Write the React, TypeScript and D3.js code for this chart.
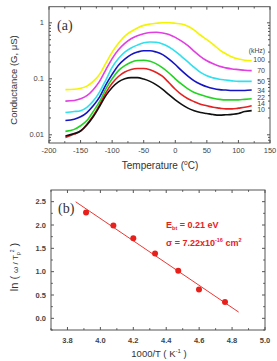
import React from 'react';
import * as d3 from 'd3';

// temperature grid (°C) shared by all conductance traces
const temps = [-174, -160, -150, -140, -130, -120, -110, -100, -90, -80, -70, -60, -50, -40, -30, -20, -10, 0, 10, 20, 30, 40, 50, 60, 70, 80, 90, 100, 110, 121];

// conductance G (µS) per frequency
const g100 = [0.064, 0.065, 0.068, 0.074, 0.09, 0.12, 0.19, 0.3, 0.43, 0.58, 0.7, 0.81, 0.9, 0.95, 0.98, 1.0, 1.0, 0.98, 0.95, 0.87, 0.74, 0.6, 0.5, 0.41, 0.33, 0.28, 0.245, 0.225, 0.215, 0.21];
const g70 = [0.04, 0.041, 0.044, 0.05, 0.064, 0.09, 0.145, 0.23, 0.33, 0.43, 0.52, 0.59, 0.64, 0.67, 0.68, 0.66, 0.62, 0.55, 0.47, 0.39, 0.31, 0.25, 0.21, 0.185, 0.167, 0.157, 0.15, 0.146, 0.142, 0.14];
const g50 = [0.025, 0.026, 0.027, 0.031, 0.04, 0.058, 0.095, 0.16, 0.23, 0.3, 0.355, 0.4, 0.44, 0.455, 0.45, 0.42, 0.37, 0.31, 0.25, 0.2, 0.16, 0.13, 0.113, 0.104, 0.098, 0.095, 0.092, 0.09, 0.09, 0.09];
const g34 = [0.018, 0.019, 0.021, 0.025, 0.033, 0.047, 0.078, 0.12, 0.175, 0.225, 0.27, 0.3, 0.318, 0.318, 0.3, 0.27, 0.225, 0.18, 0.14, 0.112, 0.092, 0.08, 0.072, 0.067, 0.064, 0.063, 0.062, 0.062, 0.062, 0.063];
const g22 = [0.0115, 0.0125, 0.0145, 0.018, 0.026, 0.039, 0.066, 0.1, 0.14, 0.172, 0.198, 0.212, 0.215, 0.205, 0.185, 0.157, 0.127, 0.1, 0.08, 0.066, 0.057, 0.052, 0.048, 0.045, 0.043, 0.042, 0.042, 0.042, 0.043, 0.044];
const g14 = [0.009, 0.0103, 0.0117, 0.0155, 0.022, 0.034, 0.056, 0.083, 0.11, 0.132, 0.147, 0.153, 0.153, 0.145, 0.13, 0.11, 0.085, 0.065, 0.052, 0.044, 0.039, 0.035, 0.033, 0.031, 0.03, 0.029, 0.029, 0.03, 0.031, 0.033];
const g10 = [0.0095, 0.0105, 0.0117, 0.015, 0.021, 0.032, 0.05, 0.07, 0.088, 0.1, 0.105, 0.105, 0.099, 0.09, 0.078, 0.065, 0.052, 0.042, 0.035, 0.03, 0.027, 0.025, 0.024, 0.023, 0.0225, 0.0228, 0.0232, 0.024, 0.026, 0.027];

const freqs = ['100', '70', '50', '34', '22', '14', '10'];
const series = [g100, g70, g50, g34, g22, g14, g10];
const colors = ['#f4f400', '#e23ee2', '#2fe0ee', '#1414c4', '#22d422', '#e42222', '#111111'];
const labelY = [61.5, 73, 83.5, 92.5, 100, 106, 112];

// Arrhenius points: 1000/T vs ln(w/Tp^2)
const invT = [3.913, 4.079, 4.2, 4.332, 4.473, 4.599, 4.757];
const lnRate = [2.27, 1.99, 1.715, 1.39, 1.02, 0.62, 0.35];
const fitRange = [3.85, 4.84];

const font = 'Liberation Sans, Arial, sans-serif';
const axisCol = '#555';
const textCol = '#444';
const red = '#e8201c';

function App() {
  // ---- panel (a)
  const xA = d3.scaleLinear().domain([-200, 150]).range([49, 270]);
  const yA = d3.scaleLog().domain([0.00714, 1.94]).range([143, 6.7]);
  const [a0, a1] = yA.range();
  const lineA = d3.line<number>()
    .x((_, i) => xA(temps[i]))
    .y(d => yA(d))
    .curve(d3.curveMonotoneX);

  const xMajA = d3.range(-200, 151, 50);
  const xMinA = d3.range(-175, 150, 50);
  const yMajA = [0.01, 0.1, 1];
  const yMinA: number[] = [];
  [0.001, 0.01, 0.1, 1].forEach(dec => {
    for (let k = 2; k <= 9; k++) {
      const v = dec * k;
      if (v > 0.00714 && v < 1.94) yMinA.push(v);
    }
  });

  // ---- panel (b)
  const xB = d3.scaleLinear().domain([3.7, 5.0]).range([51, 265]);
  const yB = d3.scaleLinear().domain([-0.25, 2.75]).range([330, 190]);
  const xMajB = d3.range(3.8, 5.01, 0.2);
  const xMinB = d3.range(3.7, 5.0, 0.2);
  const yMajB = d3.range(0, 2.51, 0.5);
  const yMinB = d3.range(-0.25, 2.75, 0.5);

  // least-squares line through the points
  const mx = d3.mean(invT)!;
  const my = d3.mean(lnRate)!;
  let sxy = 0, sxx = 0;
  invT.forEach((x, i) => { sxy += (x - mx) * (lnRate[i] - my); sxx += (x - mx) ** 2; });
  const slope = sxy / sxx;
  const icpt = my - slope * mx;

  const frame = (x0: number, x1: number, y0: number, y1: number) => (
    <rect x={x0} y={y1} width={x1 - x0} height={y0 - y1} fill="none" stroke={axisCol} strokeWidth={1} />
  );

  return (
    <svg width={277} height={361} style={{ position: 'fixed', left: 0, top: 0, background: '#fff' }} fontFamily={font}>
      {/* ===== (a) conductance vs temperature ===== */}
      {series.map((s, i) => (
        <path key={freqs[i]} d={lineA(s) || ''} fill="none" stroke={colors[i]} strokeWidth={1.6} />
      ))}
      {frame(49, 270, a0, a1)}
      {xMajA.map(v => (
        <g key={'xa' + v}>
          <line x1={xA(v)} x2={xA(v)} y1={a0} y2={a0 - 3} stroke={axisCol} />
          <line x1={xA(v)} x2={xA(v)} y1={a1} y2={a1 + 3} stroke={axisCol} />
          <text x={xA(v)} y={152.5} fontSize={7.5} fill={textCol} textAnchor="middle">{v}</text>
        </g>
      ))}
      {xMinA.map(v => (
        <g key={'xam' + v}>
          <line x1={xA(v)} x2={xA(v)} y1={a0} y2={a0 - 1.8} stroke={axisCol} />
          <line x1={xA(v)} x2={xA(v)} y1={a1} y2={a1 + 1.8} stroke={axisCol} />
        </g>
      ))}
      {yMajA.map(v => (
        <g key={'ya' + v}>
          <line x1={49} x2={52} y1={yA(v)} y2={yA(v)} stroke={axisCol} />
          <line x1={270} x2={267} y1={yA(v)} y2={yA(v)} stroke={axisCol} />
          <text x={44} y={yA(v) + 2.6} fontSize={7.5} fill={textCol} textAnchor="end">{v}</text>
        </g>
      ))}
      {yMinA.map(v => (
        <g key={'yam' + v}>
          <line x1={49} x2={51} y1={yA(v)} y2={yA(v)} stroke={axisCol} />
          <line x1={270} x2={268} y1={yA(v)} y2={yA(v)} stroke={axisCol} />
        </g>
      ))}
      <text x={57} y={30} fontFamily="Liberation Serif, Times New Roman, serif" fontSize={14} fill="#333">(a)</text>
      <text x={265} y={52.5} fontSize={6.8} fill={textCol} textAnchor="end">(kHz)</text>
      {freqs.map((f, i) => (
        <text key={'lab' + f} x={265} y={labelY[i]} fontSize={7} fill={textCol} textAnchor="end">{f}</text>
      ))}
      <text transform="translate(17,80) rotate(-90)" fontSize={9.5} fill="#333" textAnchor="middle">Conductance  (G, μS)</text>
      <text x={160} y={169} fontSize={10} fill="#333" textAnchor="middle">
        Temperature  (<tspan fontSize={6.5} dy={-4}>o</tspan><tspan dy={4}>C)</tspan>
      </text>

      {/* ===== (b) Arrhenius plot ===== */}
      <line x1={xB(fitRange[0])} y1={yB(icpt + slope * fitRange[0])} x2={xB(fitRange[1])} y2={yB(icpt + slope * fitRange[1])} stroke={red} strokeWidth={0.9} />
      {invT.map((x, i) => (
        <circle key={'p' + i} cx={xB(x)} cy={yB(lnRate[i])} r={3} fill={red} />
      ))}
      {frame(51, 265, 330, 190)}
      {xMajB.map(v => (
        <g key={'xb' + v}>
          <line x1={xB(v)} x2={xB(v)} y1={330} y2={327} stroke={axisCol} />
          <line x1={xB(v)} x2={xB(v)} y1={190} y2={193} stroke={axisCol} />
          <text x={xB(v)} y={342.5} fontSize={7.5} fontWeight="bold" fill={textCol} textAnchor="middle">{v.toFixed(1)}</text>
        </g>
      ))}
      {xMinB.map(v => (
        <g key={'xbm' + v}>
          <line x1={xB(v)} x2={xB(v)} y1={330} y2={328.2} stroke={axisCol} />
          <line x1={xB(v)} x2={xB(v)} y1={190} y2={191.8} stroke={axisCol} />
        </g>
      ))}
      {yMajB.map(v => (
        <g key={'yb' + v}>
          <line x1={51} x2={54} y1={yB(v)} y2={yB(v)} stroke={axisCol} />
          <line x1={265} x2={262} y1={yB(v)} y2={yB(v)} stroke={axisCol} />
          <text x={46} y={yB(v) + 2.7} fontSize={7.5} fontWeight="bold" fill={textCol} textAnchor="end">{v.toFixed(1)}</text>
        </g>
      ))}
      {yMinB.map(v => (
        <g key={'ybm' + v}>
          <line x1={51} x2={52.8} y1={yB(v)} y2={yB(v)} stroke={axisCol} />
          <line x1={265} x2={263.2} y1={yB(v)} y2={yB(v)} stroke={axisCol} />
        </g>
      ))}
      <text x={58} y={213} fontFamily="Liberation Serif, Times New Roman, serif" fontSize={14} fill="#333">(b)</text>
      <text x={166} y={228} fontSize={9} fontWeight="bold" fill={red}>
        E<tspan fontSize={5.5} dy={2}>bt</tspan><tspan dy={-2}> = 0.21 eV</tspan>
      </text>
      <text x={166} y={246} fontSize={9} fontWeight="bold" fill={red}>
        σ = 7.22x10<tspan fontSize={5.5} dy={-4}>-16</tspan><tspan dy={4}> cm</tspan><tspan fontSize={5.5} dy={-4}>2</tspan>
      </text>
      <text transform="translate(18,267) rotate(-90)" fontSize={11} fill="#333" textAnchor="middle">
        ln ( <tspan fontSize={8}>ω / T</tspan><tspan fontSize={5} dy={2}>p</tspan><tspan fontSize={5} dy={-6}>2</tspan><tspan dy={4}> )</tspan>
      </text>
      <text x={159} y={357} fontSize={9.5} fill="#333" textAnchor="middle">
        1000/T  ( K<tspan fontSize={6} dy={-4}>-1</tspan><tspan dy={4}> )</tspan>
      </text>
    </svg>
  );
}

export default App;
